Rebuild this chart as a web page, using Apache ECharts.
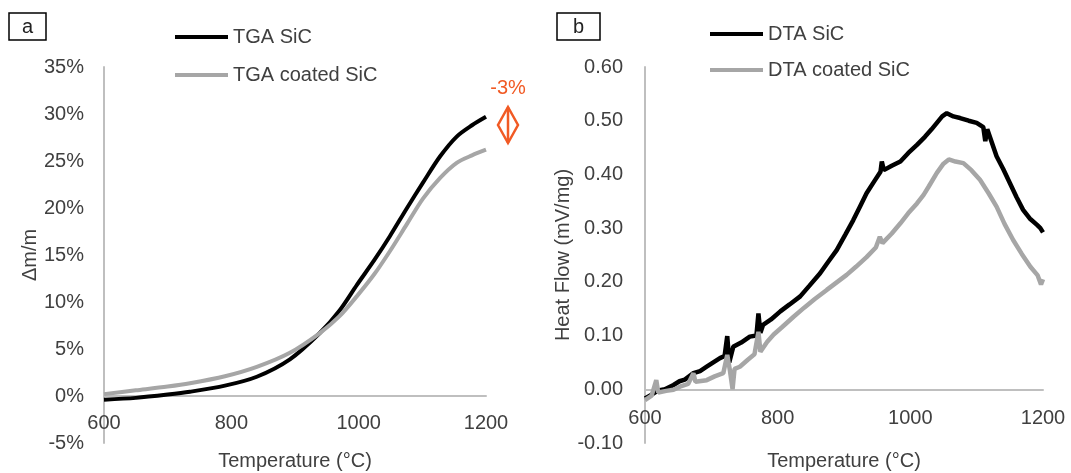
<!DOCTYPE html>
<html>
<head>
<meta charset="utf-8">
<script src="https://cdn.jsdelivr.net/npm/echarts@6/dist/echarts.min.js"></script>
<style>
  html, body { margin: 0; padding: 0; background: #fff; }
  #chart { width: 1071px; height: 473px; }
</style>
</head>
<body>
<div id="chart"></div>
<script>
// TGA (mass change, %) vs temperature (°C)
var tgaSiC = [[600,-0.4],[650,-0.2],[700,0.15],[735,0.45],[790,1.1],[840,2.05],[892,3.9],[939,6.7],[970,9.1],[997,11.8],[1025,14.5],[1049,17.0],[1075,19.9],[1101,22.7],[1128,25.5],[1154,27.6],[1178,28.8],[1200,29.7]]
var tgaCoated = [[600,0.2],[650,0.6],[700,1.0],[735,1.35],[790,2.1],[840,3.1],[892,4.6],[939,6.7],[970,8.5],[997,10.6],[1025,13.0],[1049,15.4],[1075,18.2],[1101,21.0],[1128,23.2],[1154,24.8],[1178,25.6],[1200,26.2]]

// DTA (heat flow, mV/mg) vs temperature (°C)
var dtaSiC = [[600,-0.017],[610,-0.010],[620,-0.002],[630,0.000],[643,0.008],[652,0.015],[660,0.018],[673,0.030],[683,0.034],[693,0.042],[703,0.050],[713,0.058],[720,0.062],[724,0.099],[727,0.050],[733,0.079],[745,0.087],[758,0.098],[768,0.100],[771,0.141],[774,0.105],[778,0.120],[790,0.130],[804,0.145],[818,0.158],[834,0.173],[848,0.193],[864,0.216],[876,0.237],[889,0.259],[902,0.288],[914,0.315],[924,0.340],[934,0.365],[946,0.388],[955,0.405],[957,0.424],[960,0.408],[972,0.416],[985,0.424],[997,0.440],[1010,0.455],[1022,0.470],[1032,0.484],[1040,0.496],[1048,0.508],[1055,0.514],[1065,0.508],[1075,0.505],[1088,0.500],[1100,0.496],[1110,0.488],[1113,0.462],[1116,0.484],[1130,0.434],[1140,0.410],[1150,0.384],[1160,0.358],[1170,0.334],[1180,0.318],[1191,0.306],[1196,0.300],[1200,0.292]]
var dtaCoated = [[600,-0.020],[610,-0.012],[617,0.017],[620,-0.006],[632,-0.003],[643,-0.001],[655,0.006],[665,0.010],[673,0.030],[676,0.014],[693,0.017],[705,0.024],[718,0.030],[724,0.064],[728,0.035],[732,0.000],[735,0.038],[743,0.042],[755,0.055],[765,0.065],[771,0.107],[774,0.070],[784,0.088],[794,0.102],[806,0.115],[824,0.135],[840,0.152],[856,0.168],[874,0.185],[890,0.200],[904,0.213],[918,0.228],[934,0.246],[948,0.264],[954,0.284],[958,0.272],[972,0.290],[985,0.309],[997,0.328],[1010,0.346],[1020,0.362],[1028,0.378],[1040,0.403],[1050,0.420],[1058,0.428],[1068,0.424],[1080,0.421],[1092,0.408],[1105,0.390],[1118,0.365],[1130,0.340],[1142,0.308],[1155,0.278],[1168,0.252],[1181,0.228],[1192,0.212],[1197,0.195],[1200,0.205]]

var xTicks = { min: 600, max: 1200, interval: 200 }
var tgaTicks = { min: -5, max: 35, interval: 5 }
var dtaTicks = { min: -0.1, max: 0.6, interval: 0.1 }

var FONT = '"Liberation Sans", Arial, sans-serif'
var TXT = '#404040'
var AXIS = '#bfbfbf'
var RED = '#F15A24'

var chart = echarts.init(document.getElementById('chart'))

// labels sit just under the zero line, like the Excel original
function xAxisCfg(idx, margin) {
  return {
    type: 'value',
    gridIndex: idx,
    min: xTicks.min,
    max: xTicks.max,
    interval: xTicks.interval,
    axisLine: { onZero: true, lineStyle: { color: AXIS, width: 2 } },
    axisTick: { show: false },
    splitLine: { show: false },
    axisLabel: {
      fontSize: 20, color: TXT, fontFamily: FONT,
      margin: margin,
      formatter: function (v) { return String(v) },
    },
  }
}

function lineSeries(name, data, color, idx, smooth, width) {
  return {
    name: name,
    type: 'line',
    xAxisIndex: idx,
    yAxisIndex: idx,
    data: data,
    smooth: smooth,
    showSymbol: false,
    symbol: 'none',
    lineStyle: { color: color, width: width },
    itemStyle: { color: color },
    animation: false,
  }
}

chart.setOption({
  animation: false,
  textStyle: { fontFamily: FONT },
  grid: [
    { left: 104, top: 67, width: 382, height: 376 },
    { left: 645, top: 67, width: 398, height: 376 },
  ],
  legend: [
    {
      data: ['TGA SiC', 'TGA coated SiC'],
      orient: 'vertical',
      left: 170,
      top: 22,
      itemWidth: 53,
      itemHeight: 4,
      itemGap: 18,
      icon: 'rect',
      textStyle: { fontSize: 20, color: TXT, fontFamily: FONT },
    },
    {
      data: ['DTA SiC', 'DTA coated SiC'],
      orient: 'vertical',
      left: 705,
      top: 19,
      itemWidth: 53,
      itemHeight: 4,
      itemGap: 16,
      icon: 'rect',
      textStyle: { fontSize: 20, color: TXT, fontFamily: FONT },
    },
  ],
  xAxis: [xAxisCfg(0, -30), xAxisCfg(1, -35)],
  yAxis: [
    {
      type: 'value',
      gridIndex: 0,
      min: tgaTicks.min,
      max: tgaTicks.max,
      interval: tgaTicks.interval,
      name: 'Δm/m',
      nameLocation: 'middle',
      nameGap: 64,
      nameTextStyle: { fontSize: 20, color: TXT, fontFamily: FONT },
      axisLine: { show: true, onZero: false, lineStyle: { color: AXIS, width: 2 } },
      axisTick: { show: false },
      splitLine: { show: false },
      axisLabel: { fontSize: 20, color: TXT, fontFamily: FONT, margin: 20, formatter: '{value}%' },
    },
    {
      type: 'value',
      gridIndex: 1,
      min: dtaTicks.min,
      max: dtaTicks.max,
      interval: dtaTicks.interval,
      name: 'Heat Flow (mV/mg)',
      nameLocation: 'middle',
      nameGap: 72,
      nameTextStyle: { fontSize: 20, color: TXT, fontFamily: FONT },
      axisLine: { show: true, onZero: false, lineStyle: { color: AXIS, width: 2 } },
      axisTick: { show: false },
      splitLine: { show: false },
      axisLabel: {
        fontSize: 20, color: TXT, fontFamily: FONT, margin: 22,
        formatter: function (v) { return v.toFixed(2) },
      },
    },
  ],
  series: [
    lineSeries('TGA SiC', tgaSiC, '#000000', 0, 0.3, 4),
    lineSeries('TGA coated SiC', tgaCoated, '#a6a6a6', 0, 0.3, 4),
    lineSeries('DTA SiC', dtaSiC, '#000000', 1, false, 4.5),
    lineSeries('DTA coated SiC', dtaCoated, '#a6a6a6', 1, false, 4.5),
  ],
  graphic: [
    // panel labels
    { type: 'rect', shape: { x: 9, y: 13, width: 37, height: 27 }, style: { fill: '#fff', stroke: '#000', lineWidth: 1.5 } },
    { type: 'text', x: 27.5, y: 27, style: { text: 'a', font: '20px ' + FONT, fill: '#222', align: 'center', verticalAlign: 'middle' } },
    { type: 'rect', shape: { x: 557, y: 13, width: 43, height: 27 }, style: { fill: '#fff', stroke: '#000', lineWidth: 1.5 } },
    { type: 'text', x: 578.5, y: 27, style: { text: 'b', font: '20px ' + FONT, fill: '#222', align: 'center', verticalAlign: 'middle' } },
    // x axis titles
    { type: 'text', x: 295, y: 461, style: { text: 'Temperature (°C)', font: '20px ' + FONT, fill: TXT, align: 'center', verticalAlign: 'middle' } },
    { type: 'text', x: 844, y: 461, style: { text: 'Temperature (°C)', font: '20px ' + FONT, fill: TXT, align: 'center', verticalAlign: 'middle' } },
    // -3% annotation
    { type: 'text', x: 508, y: 88, style: { text: '-3%', font: '20px ' + FONT, fill: RED, align: 'center', verticalAlign: 'middle' } },
    { type: 'polygon', shape: { points: [[508, 107], [518, 125], [508, 143], [498, 125]] }, style: { fill: 'none', stroke: RED, lineWidth: 2.5 } },
    { type: 'line', shape: { x1: 508, y1: 107, x2: 508, y2: 143 }, style: { stroke: RED, lineWidth: 2.5 } },
  ],
})
</script>
</body>
</html>
